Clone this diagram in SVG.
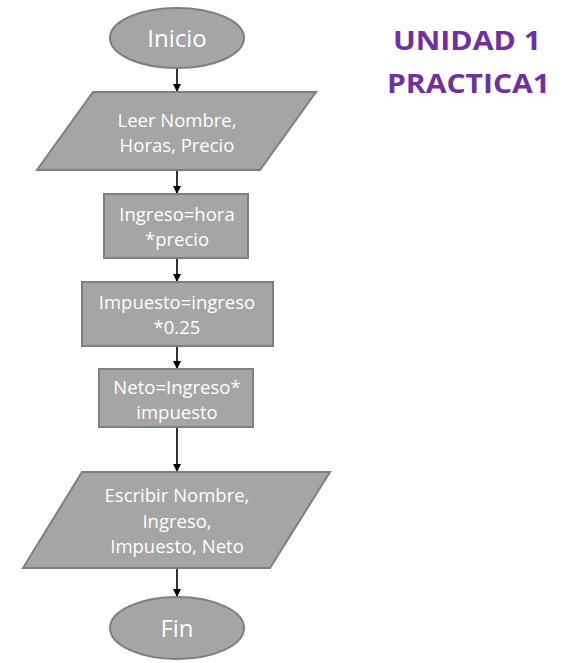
<svg xmlns="http://www.w3.org/2000/svg" width="572" height="663" viewBox="0 0 572 663">
<style>
.shape{fill:#a5a5a5;stroke:#7f7f7f;stroke-width:2}
.t{font-family:"Open Sans","Liberation Sans",sans-serif;fill:#ffffff;text-anchor:middle;font-size:18.5px}
.big{font-size:24px}
.title{font-family:"Open Sans","Liberation Sans",sans-serif;font-weight:bold;fill:#7030a0;font-size:27px}
.c{stroke:#000;stroke-width:1.6;fill:none;marker-end:url(#ah)}
</style>
<defs>
<marker id="ah" markerWidth="10" markerHeight="10" refX="8" refY="5" orient="auto" markerUnits="userSpaceOnUse">
<path d="M0,1 L8,5 L0,9 Z" fill="#000"/>
</marker>
</defs>
<rect width="572" height="663" fill="#fff"/>
<g id="connectors">
<line class="c" x1="177" y1="68" x2="177" y2="92"/>
<line class="c" x1="177" y1="170" x2="177" y2="194"/>
<line class="c" x1="177" y1="258" x2="177" y2="282"/>
<line class="c" x1="177" y1="346" x2="177" y2="369"/>
<line class="c" x1="177" y1="427" x2="177" y2="472"/>
<line class="c" x1="177" y1="568" x2="177" y2="597"/>
</g>
<g id="inicio">
<ellipse class="shape" cx="177" cy="38" rx="67" ry="30"/>
<text class="t big" x="177" y="47">Inicio</text>
</g>
<g id="leer">
<polygon class="shape" points="93,92 316,92 260,170 37,170"/>
<text class="t" x="177" y="127">Leer Nombre,</text>
<text class="t" x="177" y="152">Horas, Precio</text>
</g>
<g id="ingreso">
<rect class="shape" x="104" y="194" width="144" height="64"/>
<text class="t" x="177" y="221">Ingreso=hora</text>
<text class="t" x="177" y="246">*precio</text>
</g>
<g id="impuesto">
<rect class="shape" x="82" y="282" width="191" height="64"/>
<text class="t" x="177" y="309">Impuesto=ingreso</text>
<text class="t" x="177" y="334">*0.25</text>
</g>
<g id="neto">
<rect class="shape" x="99" y="369" width="154" height="58"/>
<text class="t" x="177" y="394">Neto=Ingreso*</text>
<text class="t" x="177" y="419">impuesto</text>
</g>
<g id="escribir">
<polygon class="shape" points="82,472 330,472 270,568 23,568"/>
<text class="t" x="177" y="502">Escribir Nombre,</text>
<text class="t" x="177" y="528">Ingreso,</text>
<text class="t" x="177" y="553">Impuesto, Neto</text>
</g>
<g id="fin">
<ellipse class="shape" cx="177" cy="628" rx="67" ry="31"/>
<text class="t big" x="177" y="637">Fin</text>
</g>
<g id="title">
<text class="title" x="393" y="50" textLength="148" lengthAdjust="spacingAndGlyphs">UNIDAD 1</text>
<text class="title" x="387" y="93" textLength="163" lengthAdjust="spacingAndGlyphs">PRACTICA1</text>
</g>
</svg>
